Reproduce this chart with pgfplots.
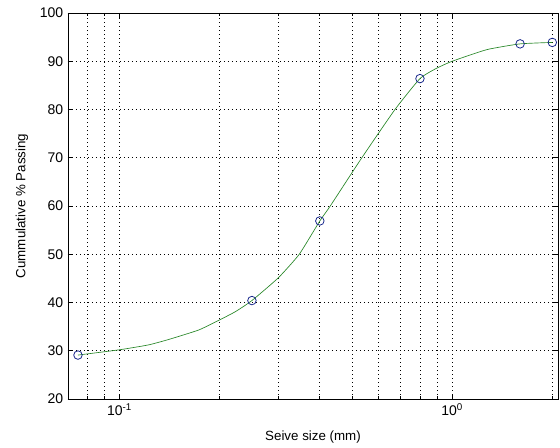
\documentclass[border=0pt]{standalone}
\usepackage{fontspec}
\setmainfont{Liberation Sans}
\usepackage{pgfplots}
\pgfplotsset{compat=1.18}
\usetikzlibrary{calc}
\definecolor{mlgreen}{RGB}{40,135,40}
\definecolor{mlblue}{RGB}{25,40,140}
\begin{document}
\begin{tikzpicture}
\begin{axis}[
  scale only axis,
  width=367.5pt,height=289.5pt,
  xmode=log,
  xmin=0.07,xmax=2.08,
  ymin=20,ymax=100,
  ytick={20,30,...,100},
  xtick={0.1,1},
  xticklabels={10\textsuperscript{-1},10\textsuperscript{0}},
  minor xtick={0.07,0.08,0.09,0.2,0.3,0.4,0.5,0.6,0.7,0.8,0.9,2},
  /pgf/number format/assume math mode=true,
  tick label style={font=\fontsize{10.5}{12}\selectfont},
  label style={font=\fontsize{10}{12}\selectfont},
  tick align=inside,
  major tick length=4pt,minor tick length=2.5pt,
  every tick/.style={black,line width=0.5pt},
  axis line style={line width=0.5pt},
  xmajorgrids,xminorgrids,ymajorgrids,
  grid style={black,line width=0.55pt,dash pattern=on 0.75pt off 2.25pt},
  minor grid style={black,line width=0.55pt,dash pattern=on 0.75pt off 2.25pt},
  xlabel={Seive size (mm)},
  ylabel={Cummulative \% Passing},
  every axis x label/.style={at={(axis description cs:0.5,-0.0985)},anchor=center},
  every axis y label/.style={at={(axis description cs:-0.094,0.5)},rotate=90,anchor=center},
]
% fitted curve
\addplot[mlgreen,line width=0.5pt,smooth,tension=0.3] coordinates {
  (0.075,29.1) (0.1,30.2) (0.122,31.2) (0.14,32.3) (0.173,34.3) (0.2,36.4)
  (0.223,38.1) (0.25,40.4) (0.3,45.1) (0.347,50) (0.4,56.9) (0.43,60)
  (0.535,70) (0.673,80) (0.8,86.4) (0.895,88.5) (1.0,90) (1.27,92.4)
  (1.6,93.6) (2.0,93.9)};
% measured points
\addplot[only marks,mark=o,mark size=3.2pt,mlblue,mark options={line width=0.6pt}] coordinates {
  (0.075,29.1) (0.25,40.4) (0.4,56.9) (0.8,86.4) (1.6,93.6) (2.0,93.9)};
\end{axis}
\pgfresetboundingbox
\path[use as bounding box] ($(current axis.south west)+(-51pt,-36.75pt)$) rectangle ($(current axis.north east)+(1.5pt,9.75pt)$);
\end{tikzpicture}
\end{document}
